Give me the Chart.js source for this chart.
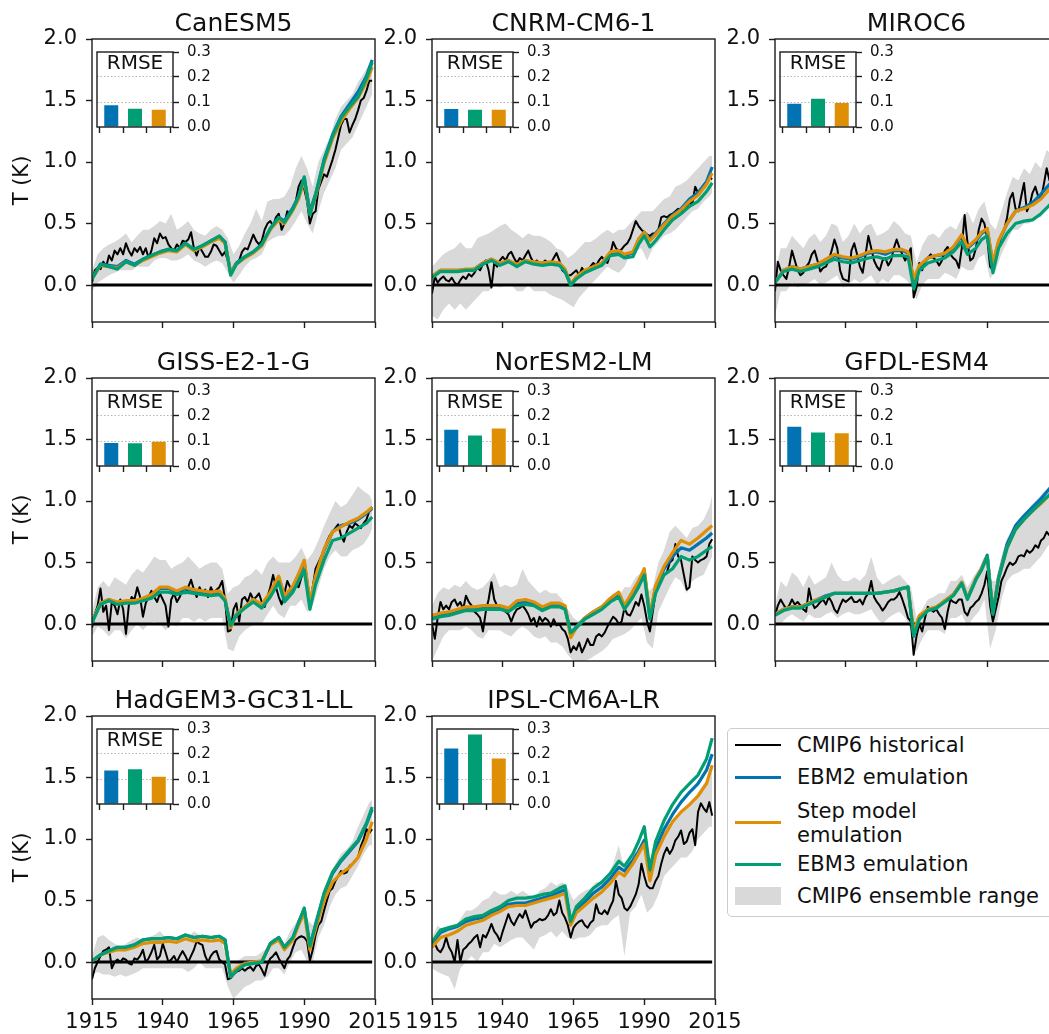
<!DOCTYPE html>
<html>
<head>
<meta charset="utf-8">
<title>Emulated historical warming of CMIP6 models</title>
<script src="https://cdn.jsdelivr.net/npm/chart.js@4.4.1/dist/chart.umd.min.js"></script>
<style>
  html, body { margin: 0; padding: 0; background: #ffffff; overflow: hidden; }
  #fig { position: relative; width: 1049px; height: 1034px; overflow: hidden; background: #ffffff; }
  #fig canvas { position: absolute; }
  .legend { position: absolute; box-sizing: border-box; border: 1px solid #cccccc; border-radius: 5px;
            background: #ffffff; font-family: "DejaVu Sans", sans-serif; font-size: 21px; color: #111111; }
  .legend .key { position: absolute; }
  .legend .txt { position: absolute; white-space: nowrap; line-height: 24px; }
</style>
</head>
<body>
<div id="fig"></div>
<script>
// ---------------------------------------------------------------
// Categories and tick labels
// ---------------------------------------------------------------
const MODELS = ['CanESM5', 'CNRM-CM6-1', 'MIROC6', 'GISS-E2-1-G', 'NorESM2-LM',
                'GFDL-ESM4', 'HadGEM3-GC31-LL', 'IPSL-CM6A-LR'];
const X_TICKS = [1915, 1940, 1965, 1990, 2015];
const Y_TICKS = [0.0, 0.5, 1.0, 1.5, 2.0];
const RMSE_TICKS = [0.0, 0.1, 0.2, 0.3];
const FIRST_YEAR = 1915, LAST_YEAR = 2014;
const YEARS = [];
for (let y = FIRST_YEAR; y <= LAST_YEAR; y++) YEARS.push(y);
const EMU_YEARS = [1915,1918,1921,1924,1927, 1930,1933,1936,1939,1942, 1945,1948,1951,1954,1957,
                   1960,1962,1964,1966,1969, 1972,1975,1978,1981,1983, 1986,1988,1990,1992,1994,
                   1997,2000,2003,2006,2009, 2012,2014];
const BAND_YEARS = [1915,1917,1919,1921,1923, 1925,1927,1929,1931,1933, 1935,1937,1939,1941,1943,
                    1945,1947,1949,1951,1953, 1955,1957,1959,1961,1963, 1965,1967,1969,1971,1973,
                    1975,1977,1979,1981,1983, 1985,1987,1989,1991,1993, 1995,1997,1999,2001,2003,
                    2005,2007,2009,2011,2013, 2014];
const ZERO_SPAN = [1915, 2014];
const ZERO_LEVEL = [0, 0];
const BAR_POS = [0, 1, 2];   // EBM2, EBM3, Step model
const LEGEND_LABELS = ['CMIP6 historical', 'EBM2 emulation', 'Step model\nemulation',
                       'EBM3 emulation', 'CMIP6 ensemble range'];

// ---------------------------------------------------------------
// RMSE of each emulator (K)
// ---------------------------------------------------------------
const RMSE_EBM2 = [0.087, 0.072, 0.093, 0.092, 0.145, 0.157, 0.134, 0.222];
const RMSE_EBM3 = [0.073, 0.069, 0.113, 0.091, 0.122, 0.134, 0.139, 0.278];
const RMSE_STEP = [0.069, 0.069, 0.096, 0.097, 0.150, 0.131, 0.109, 0.182];

// ---------------------------------------------------------------
// CanESM5
// ---------------------------------------------------------------
const canesm5Hist = [
  0.02,0.12,0.14,0.13,0.19,0.15,0.24,0.20,0.28,0.25,
  0.30,0.25,0.34,0.28,0.24,0.30,0.27,0.31,0.25,0.30,
  0.22,0.28,0.38,0.34,0.42,0.38,0.39,0.33,0.30,0.28,
  0.33,0.30,0.36,0.35,0.37,0.43,0.30,0.24,0.31,0.27,
  0.23,0.23,0.27,0.33,0.32,0.28,0.24,0.27,0.20,0.11,
  0.14,0.17,0.20,0.27,0.30,0.29,0.35,0.41,0.36,0.33,
  0.36,0.45,0.50,0.52,0.48,0.55,0.58,0.45,0.50,0.60,
  0.58,0.62,0.68,0.80,0.85,0.78,0.68,0.50,0.58,0.60,
  0.78,0.84,0.90,0.88,0.95,1.02,1.10,1.20,1.30,1.35,
  1.35,1.24,1.30,1.35,1.42,1.50,1.52,1.58,1.66,1.66];
const canesm5Ebm2 = [0.05,0.17,0.16,0.15,0.20, 0.17,0.21,0.24,0.27,0.29, 0.28,0.34,0.29,0.32,0.36,
  0.39,0.35,0.10,0.18,0.23, 0.27,0.33,0.46,0.55,0.52, 0.63,0.72,0.87,0.60,0.74,
  1.02,1.22,1.37,1.47,1.57, 1.70,1.83];
const canesm5Step = [0.05,0.16,0.15,0.14,0.19, 0.16,0.20,0.23,0.26,0.28, 0.27,0.33,0.28,0.31,0.35,
  0.38,0.34,0.10,0.17,0.22, 0.26,0.32,0.45,0.53,0.50, 0.61,0.70,0.85,0.58,0.72,
  0.99,1.19,1.33,1.43,1.52, 1.65,1.77];
const canesm5Ebm3 = [0.05,0.17,0.15,0.13,0.19, 0.16,0.21,0.24,0.27,0.29, 0.28,0.34,0.29,0.32,0.36,
  0.40,0.35,0.08,0.17,0.23, 0.27,0.33,0.46,0.55,0.51, 0.62,0.72,0.88,0.57,0.73,
  1.01,1.21,1.36,1.45,1.53, 1.68,1.81];
const canesm5Lo = [-0.05,0.02,0.05,0.08,0.10, 0.12,0.12,0.12,0.15,0.15, 0.15,0.20,0.22,0.22,0.20,
  0.20,0.22,0.25,0.20,0.18, 0.15,0.18,0.20,0.18,0.10, 0.02,0.08,0.15,0.20,0.22,
  0.25,0.35,0.38,0.40,0.40, 0.45,0.52,0.60,0.50,0.42, 0.60,0.75,0.85,0.95,1.10,
  1.15,1.20,1.30,1.40,1.50, 1.55];
const canesm5Hi = [0.12,0.25,0.30,0.33,0.35, 0.38,0.42,0.35,0.40,0.45, 0.45,0.48,0.52,0.50,0.58,
  0.45,0.48,0.52,0.45,0.42, 0.40,0.45,0.48,0.45,0.38, 0.25,0.32,0.42,0.50,0.62,
  0.52,0.68,0.70,0.70,0.72, 0.80,0.95,1.05,0.95,0.80, 1.00,1.10,1.20,1.35,1.45,
  1.50,1.55,1.65,1.72,1.80, 1.85];

// ---------------------------------------------------------------
// CNRM-CM6-1
// ---------------------------------------------------------------
const cnrmHist = [
  -0.07,0.07,0.02,0.05,0.07,0.04,0.03,0.06,0.02,0.00,
  0.04,0.07,0.05,0.09,0.07,0.10,0.14,0.12,0.17,0.20,
  0.12,-0.02,0.18,0.15,0.20,0.23,0.20,0.25,0.27,0.22,
  0.18,0.22,0.20,0.24,0.28,0.22,0.18,0.20,0.18,0.18,
  0.20,0.18,0.18,0.22,0.26,0.20,0.12,0.10,0.08,0.08,
  0.10,0.12,0.08,0.14,0.10,0.12,0.15,0.18,0.16,0.20,
  0.23,0.20,0.18,0.25,0.35,0.30,0.28,0.29,0.32,0.34,
  0.38,0.45,0.52,0.48,0.45,0.43,0.41,0.40,0.42,0.42,
  0.45,0.55,0.56,0.55,0.57,0.58,0.60,0.62,0.60,0.63,
  0.64,0.67,0.66,0.80,0.75,0.78,0.79,0.82,0.88,0.86];
const cnrmEbm2 = [0.07,0.12,0.12,0.12,0.12, 0.13,0.18,0.21,0.17,0.20, 0.16,0.20,0.18,0.17,0.18,
  0.17,0.12,0.00,0.06,0.11, 0.14,0.17,0.26,0.27,0.24, 0.26,0.37,0.43,0.37,0.42,
  0.50,0.57,0.62,0.70,0.75, 0.84,0.96];
const cnrmStep = [0.07,0.12,0.12,0.12,0.13, 0.13,0.18,0.21,0.18,0.20, 0.17,0.20,0.19,0.18,0.19,
  0.18,0.13,0.01,0.07,0.12, 0.15,0.18,0.27,0.28,0.25, 0.27,0.37,0.43,0.36,0.41,
  0.49,0.56,0.61,0.68,0.73, 0.82,0.91];
const cnrmEbm3 = [0.06,0.11,0.11,0.11,0.12, 0.12,0.17,0.20,0.16,0.19, 0.15,0.19,0.17,0.16,0.17,
  0.16,0.11,0.00,0.05,0.10, 0.13,0.16,0.24,0.25,0.22, 0.23,0.33,0.40,0.31,0.36,
  0.45,0.53,0.58,0.64,0.68, 0.76,0.83];
const cnrmLo = [-0.25,-0.28,-0.20,-0.15,-0.20, -0.15,-0.20,-0.15,-0.10,-0.05, -0.05,0.00,-0.02,0.00,0.00,
  -0.05,-0.05,0.00,-0.05,-0.05, -0.05,-0.08,-0.10,-0.12,-0.15, -0.18,-0.10,-0.05,0.00,0.05,
  0.10,0.15,0.12,0.10,0.15, 0.25,0.28,0.30,0.20,0.30, 0.35,0.40,0.42,0.45,0.50,
  0.55,0.60,0.62,0.68,0.72, 0.75];
const cnrmHi = [0.15,0.20,0.25,0.28,0.30, 0.35,0.30,0.30,0.38,0.40, 0.42,0.45,0.48,0.50,0.45,
  0.42,0.38,0.42,0.40,0.40, 0.38,0.35,0.30,0.28,0.22, 0.25,0.30,0.35,0.35,0.38,
  0.42,0.45,0.42,0.45,0.45, 0.50,0.55,0.60,0.60,0.60, 0.65,0.70,0.72,0.80,0.82,
  0.85,0.90,0.95,1.00,1.05, 1.05];

// ---------------------------------------------------------------
// MIROC6
// ---------------------------------------------------------------
const mirocHist = [
  -0.05,0.19,0.12,0.08,0.05,0.15,0.28,0.20,0.12,0.08,
  0.10,0.15,0.18,0.25,0.28,0.20,0.11,0.14,0.15,0.20,
  0.28,0.37,0.30,0.12,0.05,0.04,0.03,0.28,0.34,0.25,
  0.15,0.10,0.25,0.40,0.30,0.20,0.15,0.12,0.20,0.22,
  0.16,0.20,0.30,0.37,0.30,0.25,0.20,0.25,0.30,-0.10,
  -0.02,0.18,0.12,0.20,0.22,0.25,0.22,0.20,0.16,0.20,
  0.28,0.31,0.25,0.22,0.20,0.14,0.30,0.57,0.35,0.20,
  0.22,0.30,0.45,0.54,0.50,0.38,0.15,0.12,0.20,0.30,
  0.40,0.45,0.55,0.70,0.75,0.62,0.60,0.72,0.83,0.60,
  0.65,0.75,0.80,0.72,0.70,0.82,0.95,0.85,0.88,0.92];
const mirocEbm2 = [0.02,0.12,0.15,0.13,0.15, 0.17,0.20,0.24,0.22,0.21, 0.23,0.26,0.27,0.25,0.28,
  0.28,0.26,0.04,0.15,0.22, 0.24,0.25,0.30,0.40,0.30, 0.36,0.42,0.45,0.17,0.35,
  0.50,0.60,0.63,0.67,0.74, 0.82,0.86];
const mirocStep = [0.02,0.12,0.15,0.13,0.15, 0.17,0.21,0.25,0.23,0.22, 0.24,0.27,0.28,0.27,0.29,
  0.29,0.27,0.05,0.16,0.22, 0.24,0.26,0.31,0.41,0.31, 0.37,0.43,0.46,0.18,0.36,
  0.50,0.60,0.62,0.65,0.70, 0.78,0.82];
const mirocEbm3 = [0.02,0.11,0.13,0.11,0.13, 0.15,0.18,0.21,0.19,0.18, 0.20,0.22,0.23,0.21,0.24,
  0.24,0.23,-0.03,0.12,0.18, 0.20,0.22,0.27,0.35,0.25, 0.30,0.37,0.40,0.10,0.30,
  0.42,0.50,0.52,0.53,0.58, 0.65,0.68];
const mirocLo = [-0.25,-0.05,-0.05,0.02,-0.02, 0.00,0.02,0.05,0.00,0.02, 0.05,0.08,-0.02,0.00,0.05,
  0.02,0.05,0.08,0.00,0.05, 0.02,0.08,0.08,0.05,0.00, -0.12,0.00,0.05,0.05,0.05,
  0.10,0.08,0.05,0.15,0.12, 0.12,0.22,0.25,0.05,0.12, 0.25,0.35,0.45,0.45,0.50,
  0.50,0.55,0.55,0.65,0.65, 0.70];
const mirocHi = [0.10,0.30,0.30,0.40,0.35, 0.30,0.38,0.42,0.35,0.40, 0.50,0.48,0.35,0.40,0.50,
  0.42,0.48,0.50,0.40,0.42, 0.45,0.52,0.48,0.42,0.40, 0.18,0.32,0.40,0.42,0.38,
  0.45,0.48,0.45,0.55,0.60, 0.50,0.62,0.68,0.50,0.45, 0.60,0.75,0.88,0.85,0.95,
  0.90,1.00,0.95,1.10,1.05, 1.10];

// ---------------------------------------------------------------
// GISS-E2-1-G
// ---------------------------------------------------------------
const gissHist = [
  -0.03,0.08,0.15,0.29,0.10,0.15,-0.05,0.18,0.15,0.08,
  0.20,0.12,-0.08,0.15,0.22,0.20,0.30,0.22,0.06,0.17,
  0.22,0.27,0.22,0.18,0.25,0.20,0.15,-0.02,0.20,0.25,
  0.18,0.22,0.28,0.25,0.30,0.36,0.28,0.22,0.30,0.25,
  0.28,0.22,0.30,0.25,0.28,0.30,0.35,0.20,-0.06,-0.05,
  0.12,0.17,0.02,0.20,0.22,0.18,0.25,0.20,0.22,0.25,
  0.18,0.14,0.22,0.30,0.40,0.30,0.22,0.16,0.25,0.35,
  0.30,0.28,0.32,0.30,0.38,0.43,0.30,0.16,0.30,0.45,
  0.50,0.55,0.60,0.67,0.72,0.75,0.78,0.81,0.72,0.67,
  0.75,0.80,0.78,0.82,0.80,0.78,0.82,0.85,0.92,0.95];
const gissEbm2 = [0.02,0.17,0.20,0.17,0.18, 0.18,0.20,0.23,0.29,0.29, 0.26,0.29,0.27,0.26,0.25,
  0.26,0.20,-0.02,0.08,0.14, 0.20,0.15,0.25,0.38,0.22, 0.30,0.40,0.50,0.17,0.38,
  0.60,0.75,0.80,0.82,0.85, 0.90,0.94];
const gissStep = [0.02,0.17,0.20,0.18,0.19, 0.19,0.21,0.24,0.30,0.30, 0.27,0.30,0.28,0.27,0.26,
  0.27,0.21,-0.03,0.08,0.14, 0.20,0.16,0.26,0.39,0.23, 0.31,0.41,0.52,0.18,0.39,
  0.61,0.75,0.79,0.83,0.86, 0.91,0.95];
const gissEbm3 = [0.01,0.16,0.19,0.16,0.17, 0.17,0.19,0.21,0.26,0.26, 0.24,0.26,0.25,0.24,0.23,
  0.24,0.19,-0.01,0.07,0.13, 0.18,0.13,0.22,0.34,0.18, 0.26,0.35,0.44,0.12,0.32,
  0.52,0.68,0.70,0.74,0.78, 0.82,0.87];
const gissLo = [-0.10,-0.02,-0.05,-0.10,-0.05, -0.05,-0.12,-0.05,0.00,-0.05, 0.00,0.02,0.00,-0.05,0.00,
  -0.02,0.05,0.05,0.02,0.05, 0.02,0.05,0.05,0.05,-0.20, -0.22,-0.10,-0.05,-0.02,0.00,
  0.00,0.08,0.15,0.08,0.05, 0.15,0.15,0.20,0.10,0.15, 0.30,0.45,0.55,0.60,0.55,
  0.55,0.60,0.62,0.65,0.72, 0.78];
const gissHi = [0.10,0.30,0.35,0.30,0.38, 0.35,0.32,0.40,0.45,0.42, 0.48,0.55,0.52,0.52,0.45,
  0.48,0.50,0.55,0.50,0.45, 0.48,0.50,0.50,0.45,0.25, 0.30,0.32,0.38,0.40,0.45,
  0.40,0.50,0.55,0.50,0.50, 0.50,0.55,0.62,0.52,0.58, 0.68,0.80,0.90,1.00,0.95,
  0.98,1.05,1.12,1.08,1.05, 1.00];

// ---------------------------------------------------------------
// NorESM2-LM
// ---------------------------------------------------------------
const noresmHist = [
  0.00,-0.12,0.05,0.18,0.12,0.15,0.12,0.18,0.20,0.15,
  0.18,0.12,0.23,0.18,0.15,0.10,0.08,0.05,-0.06,0.10,
  0.20,0.34,0.20,0.15,0.12,0.13,0.10,0.08,0.02,0.08,
  0.12,0.13,0.15,0.12,0.08,0.02,0.05,-0.02,0.06,0.02,
  0.05,0.03,-0.02,0.04,-0.01,0.00,-0.04,-0.06,-0.12,-0.23,
  -0.18,-0.21,-0.15,-0.23,-0.18,-0.12,-0.17,-0.17,-0.10,-0.08,
  -0.10,-0.07,-0.02,0.02,0.06,0.04,0.00,0.02,0.13,0.08,
  0.07,0.12,0.18,0.15,0.24,0.15,0.02,-0.06,0.10,0.25,
  0.32,0.38,0.40,0.42,0.50,0.52,0.65,0.55,0.52,0.40,
  0.28,0.30,0.55,0.52,0.50,0.52,0.53,0.55,0.65,0.69];
const noresmEbm2 = [0.06,0.08,0.09,0.11,0.13, 0.13,0.14,0.14,0.14,0.12, 0.17,0.18,0.17,0.13,0.16,
  0.16,0.14,-0.08,-0.02,0.05, 0.10,0.14,0.20,0.24,0.14, 0.25,0.33,0.43,0.06,0.30,
  0.45,0.55,0.62,0.60,0.65, 0.70,0.74];
const noresmStep = [0.07,0.09,0.10,0.12,0.14, 0.14,0.15,0.15,0.15,0.13, 0.19,0.20,0.18,0.14,0.17,
  0.17,0.15,-0.11,-0.03,0.05, 0.10,0.14,0.21,0.26,0.15, 0.27,0.35,0.45,0.07,0.31,
  0.47,0.58,0.68,0.65,0.70, 0.76,0.80];
const noresmEbm3 = [0.04,0.06,0.07,0.09,0.11, 0.11,0.12,0.12,0.12,0.10, 0.15,0.16,0.15,0.11,0.14,
  0.14,0.12,-0.07,-0.03,0.04, 0.08,0.12,0.18,0.22,0.12, 0.22,0.30,0.40,0.04,0.25,
  0.40,0.45,0.55,0.52,0.55, 0.60,0.63];
const noresmLo = [-0.30,-0.20,-0.10,-0.05,-0.05, -0.05,-0.02,-0.05,-0.10,-0.12, -0.05,-0.05,-0.05,-0.08,-0.10,
  -0.05,-0.02,-0.05,-0.10,-0.12, -0.10,-0.15,-0.15,-0.18,-0.25, -0.30,-0.30,-0.30,-0.28,-0.25,
  -0.22,-0.18,-0.12,-0.10,-0.08, -0.05,0.00,0.05,-0.15,-0.20, 0.10,0.20,0.30,0.38,0.35,
  0.25,0.35,0.38,0.40,0.50, 0.55];
const noresmHi = [0.15,0.25,0.30,0.28,0.32, 0.30,0.35,0.30,0.28,0.30, 0.35,0.42,0.30,0.32,0.30,
  0.32,0.45,0.35,0.30,0.25, 0.28,0.25,0.25,0.20,0.12, 0.05,0.02,0.05,0.10,0.12,
  0.15,0.20,0.25,0.22,0.30, 0.30,0.38,0.42,0.25,0.30, 0.50,0.60,0.75,0.80,0.75,
  0.70,0.78,0.80,0.85,0.95, 1.05];

// ---------------------------------------------------------------
// GFDL-ESM4
// ---------------------------------------------------------------
const gfdlHist = [
  0.07,0.15,0.20,0.16,0.12,0.15,0.20,0.16,0.18,0.15,
  0.12,0.10,0.29,0.18,0.13,0.15,0.18,0.20,0.16,0.22,
  0.18,0.12,0.09,0.15,0.20,0.18,0.20,0.22,0.18,0.18,
  0.20,0.16,0.22,0.25,0.35,0.22,0.18,0.15,0.11,0.14,
  0.18,0.20,0.20,0.22,0.26,0.20,0.13,0.05,0.02,-0.25,
  -0.10,0.00,-0.06,0.05,0.14,0.12,0.10,0.12,0.08,0.05,
  -0.04,0.10,0.20,0.18,0.17,0.20,0.20,0.10,0.07,0.13,
  0.15,0.18,0.20,0.25,0.32,0.43,0.15,0.02,0.12,0.22,
  0.35,0.40,0.46,0.50,0.48,0.50,0.55,0.56,0.55,0.60,
  0.58,0.60,0.64,0.62,0.68,0.70,0.75,0.72,0.75,0.78];
const gfdlEbm2 = [0.08,0.12,0.14,0.14,0.17, 0.20,0.23,0.25,0.25,0.25, 0.25,0.25,0.25,0.26,0.27,
  0.29,0.30,-0.09,0.05,0.11, 0.13,0.19,0.24,0.34,0.21, 0.37,0.45,0.56,0.09,0.38,
  0.65,0.80,0.88,0.95,1.02, 1.10,1.14];
const gfdlStep = [0.08,0.12,0.14,0.14,0.17, 0.20,0.22,0.25,0.25,0.25, 0.25,0.25,0.25,0.26,0.27,
  0.29,0.30,-0.06,0.07,0.12, 0.14,0.19,0.24,0.34,0.21, 0.37,0.45,0.55,0.10,0.37,
  0.62,0.77,0.85,0.92,0.98, 1.05,1.10];
const gfdlEbm3 = [0.07,0.11,0.13,0.13,0.16, 0.19,0.22,0.25,0.25,0.25, 0.25,0.25,0.25,0.26,0.27,
  0.29,0.30,-0.10,0.04,0.11, 0.13,0.18,0.23,0.33,0.20, 0.36,0.44,0.55,0.08,0.37,
  0.62,0.77,0.85,0.92,0.99, 1.05,1.10];
const gfdlLo = [-0.02,0.00,0.05,0.08,0.05, 0.02,0.08,0.05,0.05,0.08, 0.10,0.05,0.08,0.10,0.08,
  0.08,0.10,0.12,0.05,0.00, 0.05,0.08,0.10,0.05,-0.05, -0.22,-0.12,-0.05,-0.05,-0.05,
  -0.08,0.05,0.05,0.08,-0.02, 0.05,0.10,0.20,-0.20,-0.05, 0.20,0.35,0.40,0.42,0.45,
  0.45,0.50,0.55,0.62,0.68, 0.70];
const gfdlHi = [0.15,0.35,0.30,0.42,0.38, 0.30,0.40,0.32,0.35,0.38, 0.50,0.40,0.35,0.35,0.38,
  0.35,0.40,0.55,0.38,0.32, 0.35,0.38,0.40,0.35,0.30, 0.05,0.12,0.20,0.22,0.25,
  0.25,0.35,0.35,0.40,0.30, 0.38,0.45,0.55,0.35,0.35, 0.55,0.70,0.75,0.85,0.90,
  0.95,1.00,1.05,1.10,1.15, 1.15];

// ---------------------------------------------------------------
// HadGEM3-GC31-LL
// ---------------------------------------------------------------
const hadgemHist = [
  -0.14,-0.05,0.00,0.05,0.09,0.10,0.12,-0.05,0.00,0.02,
  0.00,0.03,0.02,-0.01,-0.02,0.03,0.02,0.05,0.10,0.00,
  0.03,0.08,0.14,0.02,0.05,0.15,0.08,0.00,0.02,0.05,
  0.00,0.05,0.09,0.05,0.00,0.05,0.10,0.17,0.15,0.14,
  0.05,0.00,0.05,0.08,0.09,0.02,0.00,-0.02,-0.14,-0.13,
  -0.10,-0.08,-0.07,-0.05,-0.07,-0.05,-0.04,-0.07,-0.03,-0.02,
  -0.06,-0.11,-0.02,0.03,0.05,0.08,0.03,-0.01,-0.05,0.02,
  0.05,0.12,0.18,0.20,0.21,0.20,0.17,0.01,0.10,0.22,
  0.30,0.33,0.42,0.50,0.58,0.60,0.66,0.70,0.74,0.72,
  0.73,0.78,0.80,0.82,0.85,0.94,1.00,1.08,1.05,1.08];
const hadgemEbm2 = [0.01,0.06,0.09,0.12,0.12, 0.14,0.18,0.19,0.19,0.20, 0.19,0.22,0.20,0.21,0.20,
  0.21,0.18,-0.12,-0.07,-0.02, -0.01,0.00,0.15,0.20,0.12, 0.20,0.32,0.43,0.13,0.30,
  0.55,0.72,0.82,0.90,0.98, 1.12,1.24];
const hadgemStep = [0.01,0.06,0.08,0.10,0.10, 0.12,0.15,0.16,0.16,0.17, 0.16,0.19,0.17,0.18,0.17,
  0.18,0.15,-0.10,-0.05,-0.01, 0.00,0.01,0.14,0.18,0.10, 0.18,0.30,0.40,0.10,0.27,
  0.50,0.65,0.72,0.77,0.85, 1.00,1.14];
const hadgemEbm3 = [0.01,0.06,0.09,0.12,0.12, 0.14,0.18,0.19,0.19,0.20, 0.19,0.22,0.20,0.21,0.20,
  0.21,0.18,-0.12,-0.07,-0.02, -0.01,0.00,0.15,0.20,0.12, 0.20,0.32,0.44,0.13,0.30,
  0.56,0.73,0.83,0.91,0.99, 1.13,1.26];
const hadgemLo = [-0.10,-0.08,-0.10,-0.10,-0.12, -0.10,-0.12,-0.10,-0.08,-0.05, -0.05,-0.05,-0.05,-0.05,-0.05,
  -0.05,-0.05,-0.08,-0.05,0.00, -0.05,-0.05,-0.05,-0.05,-0.20, -0.30,-0.25,-0.20,-0.18,-0.15,
  -0.15,-0.12,-0.05,-0.05,-0.10, 0.00,0.08,0.10,0.00,0.00, 0.20,0.30,0.45,0.55,0.60,
  0.62,0.70,0.78,0.88,0.95, 0.95];
const hadgemHi = [0.05,0.20,0.22,0.18,0.15, 0.12,0.15,0.18,0.20,0.18, 0.20,0.22,0.25,0.20,0.20,
  0.20,0.18,0.20,0.25,0.22, 0.20,0.15,0.18,0.15,0.00, -0.02,0.02,0.05,0.05,0.05,
  0.08,0.12,0.20,0.18,0.15, 0.25,0.32,0.40,0.35,0.30, 0.45,0.60,0.72,0.80,0.88,
  0.92,0.98,1.10,1.20,1.30, 1.32];

// ---------------------------------------------------------------
// IPSL-CM6A-LR
// ---------------------------------------------------------------
const ipslHist = [
  0.12,0.15,0.10,0.08,0.12,0.20,0.12,0.08,0.00,0.18,
  0.00,0.10,0.12,0.15,0.17,0.20,0.22,0.12,0.22,0.20,
  0.25,0.31,0.25,0.22,0.17,0.25,0.32,0.39,0.33,0.30,
  0.35,0.39,0.36,0.42,0.35,0.28,0.32,0.33,0.35,0.34,
  0.35,0.38,0.43,0.38,0.40,0.50,0.40,0.36,0.30,0.20,
  0.28,0.31,0.33,0.34,0.30,0.28,0.32,0.34,0.47,0.40,
  0.39,0.42,0.39,0.45,0.50,0.66,0.55,0.52,0.44,0.42,
  0.45,0.50,0.55,0.63,0.80,0.70,0.62,0.60,0.60,0.66,
  0.70,0.80,0.88,0.93,0.88,0.92,0.99,1.02,1.07,0.96,
  0.98,1.05,1.08,0.95,1.22,1.29,1.25,1.22,1.30,1.19];
const ipslEbm2 = [0.15,0.24,0.27,0.29,0.33, 0.35,0.36,0.40,0.43,0.47, 0.48,0.48,0.50,0.52,0.54,
  0.57,0.59,0.33,0.42,0.49, 0.56,0.61,0.68,0.77,0.74, 0.83,0.90,0.99,0.72,0.92,
  1.08,1.20,1.30,1.38,1.45, 1.56,1.69];
const ipslStep = [0.12,0.20,0.22,0.25,0.30, 0.32,0.34,0.38,0.41,0.45, 0.46,0.46,0.48,0.50,0.52,
  0.54,0.56,0.30,0.40,0.46, 0.52,0.57,0.64,0.73,0.70, 0.80,0.88,0.96,0.66,0.87,
  1.02,1.14,1.22,1.28,1.35, 1.45,1.60];
const ipslEbm3 = [0.16,0.26,0.28,0.30,0.35, 0.37,0.38,0.42,0.45,0.50, 0.52,0.52,0.53,0.55,0.56,
  0.60,0.62,0.33,0.45,0.52, 0.60,0.65,0.72,0.82,0.78, 0.88,0.98,1.10,0.75,0.98,
  1.15,1.28,1.38,1.45,1.52, 1.65,1.82];
const ipslLo = [-0.05,-0.08,-0.10,-0.12,-0.22, -0.05,0.00,0.05,0.00,0.08, 0.08,0.15,0.12,0.15,0.18,
  0.20,0.20,0.15,0.10,0.20, 0.22,0.25,0.20,0.25,0.20, 0.18,0.20,0.20,0.22,0.28,
  0.30,0.30,0.35,0.38,0.05, 0.40,0.45,0.55,0.40,0.45, 0.55,0.70,0.75,0.80,0.85,
  0.85,0.90,1.00,1.05,1.10, 1.10];
const ipslHi = [0.20,0.30,0.25,0.30,0.28, 0.35,0.42,0.42,0.45,0.50, 0.52,0.58,0.55,0.55,0.58,
  0.55,0.58,0.55,0.52,0.58, 0.60,0.65,0.62,0.65,0.60, 0.50,0.55,0.58,0.60,0.65,
  0.65,0.70,0.80,0.95,0.75, 0.80,0.85,0.98,0.85,0.85, 0.95,1.10,1.12,1.18,1.22,
  1.25,1.30,1.38,1.45,1.50, 1.55];

// ---------------------------------------------------------------
// Styling
// ---------------------------------------------------------------
const FONT = '"DejaVu Sans", "Liberation Sans", Arial, sans-serif';
const C_HIST = '#000000';
const C_EBM2 = '#0173B2';
const C_STEP = '#DE8F05';
const C_EBM3 = '#029E73';
const C_BAND = '#D9D9D9';
const C_AXIS = '#1c1c1c';
const C_TEXT = '#111111';

const PANEL_LEFT = [92, 432, 775];
const PANEL_TOP = [39, 378, 716];

Chart.defaults.font.family = FONT;
Chart.defaults.animation = false;
Chart.defaults.elements.point.radius = 0;
Chart.defaults.elements.point.hoverRadius = 0;
Chart.defaults.elements.line.tension = 0;
Chart.defaults.elements.line.borderJoinStyle = 'round';
Chart.defaults.elements.line.borderCapStyle = 'butt';

const PANEL_DATA = [
  { hist: canesm5Hist, ebm2: canesm5Ebm2, step: canesm5Step, ebm3: canesm5Ebm3, lo: canesm5Lo, hi: canesm5Hi },
  { hist: cnrmHist,    ebm2: cnrmEbm2,    step: cnrmStep,    ebm3: cnrmEbm3,    lo: cnrmLo,    hi: cnrmHi },
  { hist: mirocHist,   ebm2: mirocEbm2,   step: mirocStep,   ebm3: mirocEbm3,   lo: mirocLo,   hi: mirocHi },
  { hist: gissHist,    ebm2: gissEbm2,    step: gissStep,    ebm3: gissEbm3,    lo: gissLo,    hi: gissHi },
  { hist: noresmHist,  ebm2: noresmEbm2,  step: noresmStep,  ebm3: noresmEbm3,  lo: noresmLo,  hi: noresmHi },
  { hist: gfdlHist,    ebm2: gfdlEbm2,    step: gfdlStep,    ebm3: gfdlEbm3,    lo: gfdlLo,    hi: gfdlHi },
  { hist: hadgemHist,  ebm2: hadgemEbm2,  step: hadgemStep,  ebm3: hadgemEbm3,  lo: hadgemLo,  hi: hadgemHi },
  { hist: ipslHist,    ebm2: ipslEbm2,    step: ipslStep,    ebm3: ipslEbm3,    lo: ipslLo,    hi: ipslHi }
];

function pts(xs, ys) {
  return ys.map((y, i) => ({ x: xs[i], y: y }));
}

function addCanvas(left, top, w, h) {
  const c = document.createElement('canvas');
  c.width = w; c.height = h;
  c.style.left = left + 'px'; c.style.top = top + 'px';
  c.style.width = w + 'px'; c.style.height = h + 'px';
  document.getElementById('fig').appendChild(c);
  return c;
}

// Title, y label and the four spines of a panel
function panelDecor(title, ylabel) {
  return {
    id: 'panelDecor',
    afterDatasetsDraw(chart) {
      const { ctx, chartArea: a } = chart;
      ctx.save();
      ctx.strokeStyle = C_AXIS;
      ctx.lineWidth = 1.4;
      ctx.strokeRect(a.left, a.top, a.right - a.left, a.bottom - a.top);
      ctx.restore();
    },
    afterDraw(chart) {
      const { ctx, chartArea: a } = chart;
      ctx.save();
      ctx.fillStyle = C_TEXT;
      ctx.textAlign = 'center';
      ctx.textBaseline = 'alphabetic';
      ctx.font = '25px ' + FONT;
      ctx.fillText(title, (a.left + a.right) / 2, a.top - 8);
      if (ylabel) {
        ctx.font = '21px ' + FONT;
        ctx.translate(a.left - 69, (a.top + a.bottom) / 2);
        ctx.rotate(-Math.PI / 2);
        ctx.textBaseline = 'middle';
        ctx.fillText(ylabel, 0, 0);
      }
      ctx.restore();
    }
  };
}

// White inset background, inset frame and its label
function insetDecor(label) {
  return {
    id: 'insetDecor',
    beforeDraw(chart) {
      const { ctx, chartArea: a } = chart;
      ctx.save();
      ctx.fillStyle = '#ffffff';
      ctx.fillRect(a.left, a.top, a.right - a.left, a.bottom - a.top);
      ctx.restore();
    },
    afterDatasetsDraw(chart) {
      const { ctx, chartArea: a } = chart;
      ctx.save();
      ctx.strokeStyle = C_AXIS;
      ctx.lineWidth = 1.4;
      ctx.strokeRect(a.left, a.top, a.right - a.left, a.bottom - a.top);
      if (label) {
        ctx.fillStyle = C_TEXT;
        ctx.font = '20px ' + FONT;
        ctx.textAlign = 'center';
        ctx.textBaseline = 'alphabetic';
        ctx.fillText(label, (a.left + a.right) / 2, a.top + 17);
      }
      ctx.restore();
    }
  };
}

function tickGrid() {
  return { display: true, drawOnChartArea: false, drawTicks: true, tickLength: 6,
           tickWidth: 1.4, tickColor: C_AXIS };
}

function drawPanel(i) {
  const col = i % 3, row = Math.floor(i / 3);
  const L = PANEL_LEFT[col], T = PANEL_TOP[row];
  const d = PANEL_DATA[i];
  const bottomRow = row === 2;
  // wide enough on the right for the last x tick label
  const cv = addCanvas(L - 92, T - 39, 415, 356);

  new Chart(cv, {
    type: 'line',
    data: {
      datasets: [
        { data: pts(BAND_YEARS, d.lo), borderColor: 'rgba(0,0,0,0)', borderWidth: 0, fill: false, order: 6 },
        { data: pts(BAND_YEARS, d.hi), borderColor: 'rgba(0,0,0,0)', borderWidth: 0,
          backgroundColor: C_BAND, fill: '-1', order: 6 },
        { data: pts(ZERO_SPAN, ZERO_LEVEL), borderColor: '#000000', borderWidth: 3, fill: false, order: 5 },
        { data: pts(YEARS, d.hist), borderColor: C_HIST, borderWidth: 2, fill: false, order: 3 },
        { data: pts(EMU_YEARS, d.ebm2), borderColor: C_EBM2, borderWidth: 3.2, fill: false, order: 2 },
        { data: pts(EMU_YEARS, d.step), borderColor: C_STEP, borderWidth: 3.2, fill: false, order: 1 },
        { data: pts(EMU_YEARS, d.ebm3), borderColor: C_EBM3, borderWidth: 3.2, fill: false, order: 0 }
      ]
    },
    options: {
      responsive: false,
      devicePixelRatio: 1,
      events: [],
      layout: { padding: { left: 2, top: 39, right: 40, bottom: 0 }, autoPadding: false },
      plugins: { legend: { display: false }, tooltip: { enabled: false }, title: { display: false } },
      scales: {
        x: {
          type: 'linear', min: 1915, max: 2015,
          afterBuildTicks: s => { s.ticks = X_TICKS.map(v => ({ value: v })); },
          afterFit: s => { s.height = 34; s.paddingLeft = 0; s.paddingRight = 0; },
          ticks: { display: bottomRow, autoSkip: false, maxRotation: 0, padding: 5,
                   color: C_TEXT, font: { family: FONT, size: 21 }, callback: v => String(v) },
          grid: tickGrid(),
          border: { display: false }
        },
        y: {
          type: 'linear', min: -0.3, max: 2.0,
          afterBuildTicks: s => { s.ticks = Y_TICKS.map(v => ({ value: v })); },
          afterFit: s => { s.width = 90; s.paddingTop = 0; s.paddingBottom = 0; },
          ticks: { autoSkip: false, padding: 9, color: C_TEXT, font: { family: FONT, size: 21 },
                   callback: v => Number(v).toFixed(1) },
          grid: tickGrid(),
          border: { display: false }
        }
      }
    },
    plugins: [panelDecor(MODELS[i], col === 0 ? 'T (K)' : null)]
  });

  // RMSE inset
  const icv = addCanvas(L + 2, T + 2, 129, 100);
  const bars = [RMSE_EBM2[i], RMSE_EBM3[i], RMSE_STEP[i]];
  new Chart(icv, {
    type: 'bar',
    data: {
      datasets: [{
        data: pts(BAR_POS, bars),
        backgroundColor: [C_EBM2, C_EBM3, C_STEP],
        borderWidth: 0,
        barPercentage: 0.59,
        categoryPercentage: 1.0
      }]
    },
    options: {
      responsive: false,
      devicePixelRatio: 1,
      events: [],
      layout: { padding: { left: 3, top: 11, right: 2, bottom: 4 }, autoPadding: false },
      plugins: { legend: { display: false }, tooltip: { enabled: false } },
      scales: {
        x: {
          type: 'linear', min: -0.6, max: 2.6, offset: false,
          afterBuildTicks: s => { s.ticks = BAR_POS.map(v => ({ value: v })); },
          afterFit: s => { s.height = 10; s.paddingLeft = 0; s.paddingRight = 0; },
          ticks: { display: false },
          grid: tickGrid(),
          border: { display: false }
        },
        y: {
          type: 'linear', position: 'right', min: 0, max: 0.3,
          afterBuildTicks: s => { s.ticks = RMSE_TICKS.map(v => ({ value: v })); },
          afterFit: s => { s.width = 48; s.paddingTop = 0; s.paddingBottom = 0; },
          ticks: { autoSkip: false, padding: 8, color: C_TEXT, font: { family: FONT, size: 15 },
                   callback: v => Number(v).toFixed(1) },
          grid: {
            display: true, drawOnChartArea: true, drawTicks: true, tickLength: 6,
            tickWidth: 1.4, tickColor: C_AXIS, lineWidth: 1,
            color: c => {
              const v = c.tick ? c.tick.value : 0;
              return (Math.abs(v - 0.1) < 1e-6 || Math.abs(v - 0.2) < 1e-6) ? '#b5b5b5' : 'rgba(0,0,0,0)';
            }
          },
          border: { display: false, dash: [1.5, 2] }
        }
      }
    },
    plugins: [insetDecor(Math.max.apply(null, bars) < 0.2 ? 'RMSE' : null)]
  });
}

for (let i = 0; i < MODELS.length; i++) drawPanel(i);

// ---------------------------------------------------------------
// Legend
// ---------------------------------------------------------------
(function buildLegend() {
  const box = document.createElement('div');
  box.className = 'legend';
  box.style.left = '727px'; box.style.top = '728px';
  box.style.width = '345px'; box.style.height = '189px';
  const rowCenter = [16, 48, 93.5, 135, 166.5];
  const keys = [
    { color: C_HIST, h: 2 },
    { color: C_EBM2, h: 3 },
    { color: C_STEP, h: 3 },
    { color: C_EBM3, h: 3 },
    { color: C_BAND, h: 18 }
  ];
  LEGEND_LABELS.forEach((label, k) => {
    const key = document.createElement('div');
    key.className = 'key';
    key.style.left = '7px';
    key.style.width = '46px';
    key.style.height = keys[k].h + 'px';
    key.style.top = (rowCenter[k] - keys[k].h / 2) + 'px';
    key.style.background = keys[k].color;
    box.appendChild(key);
    const lines = label.split('\n');
    const txt = document.createElement('div');
    txt.className = 'txt';
    txt.style.left = '69px';
    txt.style.top = (rowCenter[k] - lines.length * 12) + 'px';
    lines.forEach((ln, j) => {
      if (j) txt.appendChild(document.createElement('br'));
      txt.appendChild(document.createTextNode(ln));
    });
    box.appendChild(txt);
  });
  document.getElementById('fig').appendChild(box);
})();
</script>
</body>
</html>
